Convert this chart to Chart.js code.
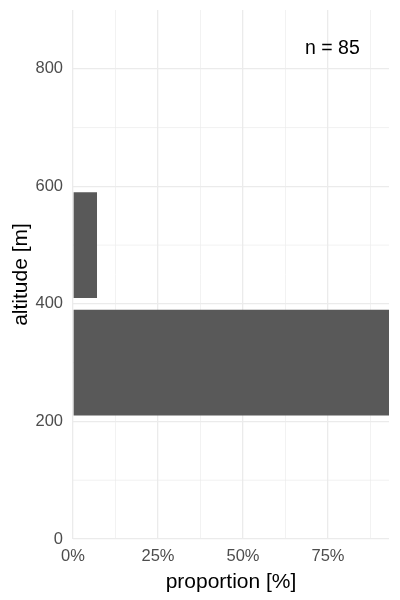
<!DOCTYPE html>
<html>
<head>
<meta charset="utf-8">
<script src="https://cdn.jsdelivr.net/npm/chart.js@4"></script>
<style>
  body { margin: 0; background: #fff; }
  #wrap { width: 400px; height: 600px; }
</style>
</head>
<body>
<div id="wrap"><canvas id="altitude-chart"></canvas></div>
<script>
// altitude bins (centre of each 200 m bin) and share of records in each
const binLabels = ["200-400", "400-600"];
const binCentres = [300, 500];
const proportions = [92.94, 7.06];
const sampleSize = 85;
const yTicks = [0, 200, 400, 600, 800];
const xTicks = [0, 25, 50, 75];

const gridColor = '#ebebeb';
const tickFont = { family: 'Liberation Sans, Arial, sans-serif', size: 16.5 };
const titleFont = { family: 'Liberation Sans, Arial, sans-serif', size: 21 };

// minor grid lines halfway between the major y ticks
const minorGrid = {
    id: 'minorGrid',
    beforeDatasetsDraw(chart) {
        const { ctx, chartArea, scales: { y } } = chart;
        ctx.save();
        ctx.strokeStyle = gridColor;
        ctx.lineWidth = 0.65;
        for (let i = 0; i < yTicks.length; i++) {
            const v = yTicks[i] + 100;
            if (v >= y.max) continue;
            const py = y.getPixelForValue(v);
            ctx.beginPath();
            ctx.moveTo(chartArea.left, py);
            ctx.lineTo(chartArea.right, py);
            ctx.stroke();
        }
        ctx.restore();
    }
};

// "n = 85" note in the upper right corner
const sampleNote = {
    id: 'sampleNote',
    afterDraw(chart) {
        const { ctx, scales: { x, y } } = chart;
        ctx.save();
        ctx.fillStyle = '#000';
        ctx.font = '19.5px Liberation Sans, Arial, sans-serif';
        ctx.textAlign = 'center';
        ctx.textBaseline = 'middle';
        ctx.fillText('n = ' + sampleSize, x.getPixelForValue(76.3), y.getPixelForValue(835));
        ctx.restore();
    }
};

const altitudeData = {
    labels: binLabels,
    datasets: [{
        data: binCentres.map((c, i) => ({ x: proportions[i], y: c })),
        backgroundColor: '#595959',
        borderWidth: 0,
        categoryPercentage: 1,
        barPercentage: 0.9
    }]
};

const altitudeOptions = {
    indexAxis: 'y',
    responsive: true,
    maintainAspectRatio: false,
    animation: false,
    layout: {
        padding: { top: 10, right: 11, left: 0, bottom: 0 }
    },
    scales: {
        x: {
            type: 'linear',
            min: 0,
            max: Math.max(...proportions),
            border: { display: false },
            grid: {
                drawTicks: false,
                color: gridColor,
                lineWidth: (c) => xTicks.includes(c.tick.value) ? 1.3 : 0.65
            },
            ticks: {
                stepSize: 12.5,
                includeBounds: false,
                autoSkip: false,
                maxRotation: 0,
                padding: 8,
                color: '#4d4d4d',
                font: tickFont,
                callback: (v) => xTicks.includes(v) ? v + '%' : ''
            },
            title: {
                display: true,
                text: 'proportion [%]',
                color: '#000',
                font: titleFont,
                padding: { top: 0, bottom: 5 }
            },
            afterFit: (s) => { s.height = 61; s.paddingRight = 0; }
        },
        y: {
            type: 'linear',
            min: 0,
            max: 900,
            offset: false,
            border: { display: false },
            grid: {
                offset: false,
                drawTicks: false,
                color: gridColor,
                lineWidth: 1.3
            },
            ticks: {
                stepSize: 200,
                includeBounds: false,
                padding: 10,
                color: '#4d4d4d',
                font: tickFont
            },
            title: {
                display: true,
                text: 'altitude [m]',
                color: '#000',
                font: titleFont,
                padding: { top: 9, bottom: 0 }
            },
            afterFit: (s) => { s.width = 73; s.paddingTop = 0; s.paddingBottom = 0; }
        }
    },
    plugins: {
        legend: { display: false },
        tooltip: { enabled: false }
    }
};

const altitudeCanvas = document.getElementById('altitude-chart');
let altitudeChart = new Chart(altitudeCanvas, {
    type: 'bar',
    data: altitudeData,
    options: altitudeOptions,
    plugins: [minorGrid, sampleNote]
});
</script>
</body>
</html>
